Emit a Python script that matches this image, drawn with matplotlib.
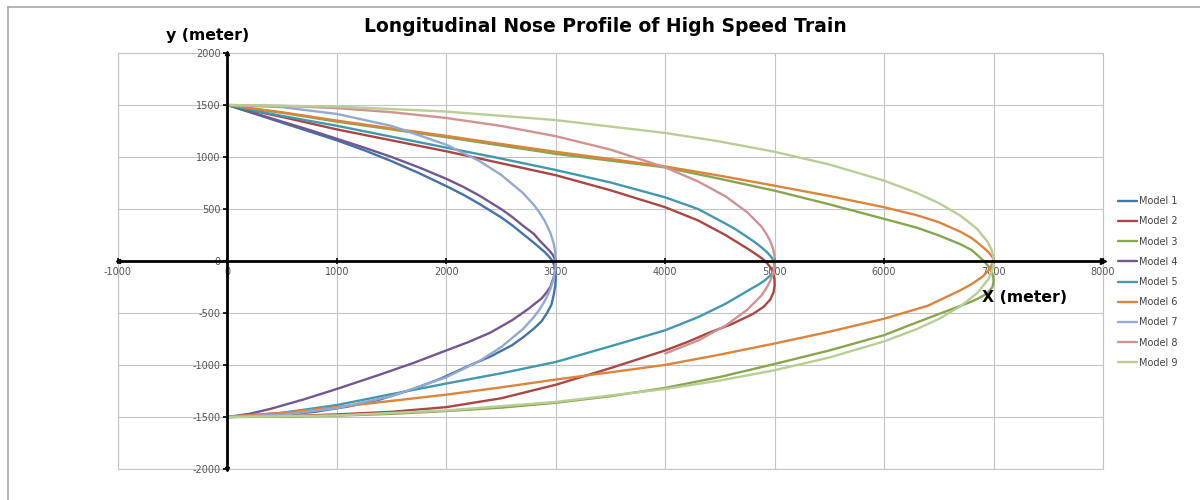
import matplotlib
matplotlib.use('Agg')
import matplotlib.pyplot as plt
from matplotlib.lines import Line2D
from matplotlib.patches import Rectangle

plt.rcParams['axes.unicode_minus'] = False
plt.rcParams['font.family'] = ['DejaVu Sans']

# ---------------- data ----------------
model_names = ["Model 1", "Model 2", "Model 3", "Model 4", "Model 5",
               "Model 6", "Model 7", "Model 8", "Model 9"]

m1_x = [0, 250, 500, 750, 1000, 1250, 1500, 1750, 2000, 2150, 2300, 2500, 2600, 2700, 2800, 2850, 2900,
        2940, 2970, 2985, 2995, 3000, 2995,
        2980, 2960, 2920, 2870, 2800, 2700, 2600, 2400, 2200, 1950, 1700, 1400, 1100, 800, 500, 250, 0]
m1_y = [1500, 1415, 1330, 1245, 1160, 1065, 960, 845, 720, 640, 550, 420, 345, 260, 175, 130, 85,
        40, 0, -40, -90, -160, -240,
        -330, -420, -500, -580, -650, -735, -810, -920, -1010, -1130, -1230, -1330, -1400, -1450, -1480, -1495, -1500]

m2_x = [0, 250, 500, 1000, 1500, 2000, 2500, 3000, 3500, 4000, 4300, 4550, 4650, 4750, 4830, 4890, 4930,
        4960, 4985, 4997, 5000,
        4990, 4960, 4900, 4800, 4700, 4600, 4400, 4200, 4000, 3500, 3000, 2500, 2000, 1500, 1000, 500, 0]
m2_y = [1500, 1440, 1385, 1265, 1160, 1055, 940, 825, 680, 517, 390, 250, 185, 120, 65, 20, -20,
        -60, -110, -170, -230,
        -300, -370, -440, -510, -560, -610, -690, -780, -860, -1030, -1190, -1320, -1405, -1450, -1475, -1493, -1500]

m3_x = [0, 250, 500, 1000, 1500, 2000, 2500, 3000, 3500, 4000, 4500, 5000, 5500, 6000, 6300, 6500, 6700,
        6800, 6870, 6920, 6960, 6985, 6998, 7000,
        6990, 6960, 6920, 6860, 6800, 6700, 6500, 6250, 6000, 5500, 5000, 4500, 4000, 3500, 3000, 2500,
        2000, 1500, 1000, 500, 0]
m3_y = [1500, 1460, 1425, 1340, 1265, 1190, 1110, 1030, 965, 900, 790, 676, 545, 405, 320, 246, 160,
        105, 40, -10, -60, -110, -160, -200,
        -250, -290, -325, -360, -390, -430, -510, -610, -713, -860, -990, -1115, -1220, -1300, -1363, -1410,
        -1443, -1470, -1487, -1497, -1500]

m4_x = [0, 250, 500, 750, 1000, 1250, 1500, 1750, 2000, 2150, 2300, 2500, 2600, 2700, 2800, 2850, 2900,
        2950, 2975, 2990, 2998, 3000,
        2995, 2980, 2950, 2910, 2870, 2750, 2600, 2400, 2200, 2000, 1700, 1400, 1000, 700, 400, 200, 0]
m4_y = [1500, 1420, 1340, 1260, 1175, 1090, 1000, 900, 790, 715, 630, 500, 425, 340, 260, 200, 145,
        90, 55, 20, -20, -60,
        -110, -160, -250, -310, -360, -460, -570, -690, -780, -860, -980, -1090, -1230, -1330, -1420, -1470, -1500]

m5_x = [0, 250, 500, 1000, 1500, 2000, 2500, 3000, 3500, 4000, 4300, 4550, 4650, 4750, 4820, 4880, 4930,
        4960, 4985, 4995, 5000,
        4995, 4980, 4950, 4910, 4860, 4780, 4700, 4550, 4300, 4000, 3500, 3000, 2500, 2000, 1500, 1000, 500, 0]
m5_y = [1500, 1445, 1395, 1300, 1195, 1090, 985, 875, 755, 612, 500, 360, 300, 230, 180, 130, 85,
        50, 15, -20, -50,
        -80, -115, -150, -185, -222, -270, -320, -412, -540, -666, -820, -971, -1080, -1178, -1280, -1385, -1460, -1500]

m6_x = [0, 250, 500, 1000, 1500, 2000, 2500, 3000, 3500, 4000, 4500, 5000, 5500, 6000, 6300, 6500, 6700,
        6800, 6850, 6900, 6950, 6980, 7000,
        6995, 6980, 6950, 6900, 6800, 6700, 6600, 6400, 6000, 5500, 5000, 4500, 4000, 3500, 3000, 2500,
        2000, 1500, 1000, 500, 0]
m6_y = [1500, 1465, 1430, 1350, 1275, 1203, 1125, 1050, 980, 909, 820, 724, 625, 517, 440, 373, 280,
        220, 180, 135, 90, 50, 20,
        -10, -45, -95, -150, -222, -280, -330, -430, -555, -680, -793, -900, -999, -1070, -1140, -1215,
        -1285, -1345, -1405, -1460, -1500]

m7_x = [0, 500, 1000, 1500, 2000, 2300, 2500, 2700, 2800, 2850, 2900, 2950, 2980, 2995, 3000,
        2995, 2980, 2950, 2900, 2850, 2800, 2700, 2500, 2300, 2000, 1500, 1000, 500, 0]
m7_y = [1500, 1479, 1414, 1299, 1118, 963, 829, 654, 539, 468, 384, 272, 173, 87, 0,
        -87, -173, -272, -384, -468, -539, -654, -829, -963, -1118, -1299, -1414, -1479, -1500]

m8_x = [0, 500, 1000, 1500, 2000, 2500, 3000, 3500, 4000, 4300, 4550, 4750, 4880, 4930, 4960, 4985, 4997, 5000,
        4997, 4985, 4960, 4930, 4880, 4750, 4550, 4300, 4000]
m8_y = [1500, 1492, 1470, 1431, 1375, 1299, 1200, 1071, 900, 765, 622, 468, 330, 250, 190, 120, 60, 0,
        -60, -120, -190, -250, -330, -468, -622, -765, -890]

m9_x = [0, 1000, 2000, 3000, 4000, 4500, 5000, 5500, 6000, 6300, 6500, 6700, 6850, 6950, 6985, 6998, 7000,
        6998, 6985, 6950, 6850, 6700, 6500, 6300, 6000, 5500, 5000, 4500, 4000, 3000, 2000, 1000, 0]
m9_y = [1500, 1485, 1437, 1355, 1231, 1149, 1050, 928, 773, 654, 557, 434, 309, 178, 98, 36, 0,
        -36, -98, -178, -309, -434, -557, -654, -773, -928, -1050, -1149, -1231, -1355, -1437, -1485, -1500]

x_ticks = [-1000, 0, 1000, 2000, 3000, 4000, 5000, 6000, 7000, 8000]
y_ticks = [-2000, -1500, -1000, -500, 0, 500, 1000, 1500, 2000]

title = "Longitudinal Nose Profile of High Speed Train"
x_label = "X (meter)"
y_label = "y (meter)"

# ---------------- styles ----------------
colors = ["#4572A7", "#AA4643", "#89A54E", "#71588F", "#4198AF",
          "#DB843D", "#93A9CF", "#D19392", "#B9CD96"]
series = [(m1_x, m1_y), (m2_x, m2_y), (m3_x, m3_y), (m4_x, m4_y), (m5_x, m5_y),
          (m6_x, m6_y), (m7_x, m7_y), (m8_x, m8_y), (m9_x, m9_y)]

W, H = 1200, 500
fig = plt.figure(figsize=(12, 5), dpi=100)
fig.patch.set_facecolor('white')

left, right, top, bottom = 118, 1103, 53, 469
ax = fig.add_axes([left / W, 1 - bottom / H, (right - left) / W, (bottom - top) / H])

for (xs, ys), c, name in zip(series, colors, model_names):
    ax.plot(xs, ys, color=c, lw=1.7, label=name, solid_capstyle='round', solid_joinstyle='round')

ax.set_xlim(-1000, 8000)
ax.set_ylim(-2000, 2000)
ax.set_xticks(x_ticks)
ax.set_yticks(y_ticks)
ax.set_xticklabels([str(v) for v in x_ticks])
ax.set_yticklabels([str(v) for v in y_ticks])

ax.grid(True, color='#c4c4c4', lw=0.8)
ax.set_axisbelow(True)

for s in ['top', 'right']:
    ax.spines[s].set_visible(False)
ax.spines['left'].set_position(('data', 0))
ax.spines['bottom'].set_position(('data', 0))
for s in ['left', 'bottom']:
    ax.spines[s].set_linewidth(2.0)
    ax.spines[s].set_color('black')
    ax.spines[s].set_zorder(2.5)

ax.add_patch(Rectangle((0, 0), 1, 1, transform=ax.transAxes, fill=False,
                       ec='#c4c4c4', lw=0.8, zorder=0.5, clip_on=False))

ax.tick_params(axis='x', direction='inout', length=5, width=1.2, colors='black',
               labelcolor='#555555', labelsize=7, pad=2)
ax.tick_params(axis='y', direction='out', length=3, width=1.2, colors='black',
               labelcolor='#555555', labelsize=7, pad=2)

# small arrow heads at the axis ends
ax.plot([8000], [0], marker='>', ms=4, color='black', clip_on=False, zorder=3)
ax.plot([-1000], [0], marker='<', ms=3, color='black', clip_on=False, zorder=3)
ax.plot([0], [2000], marker='^', ms=3, color='black', clip_on=False, zorder=3)
ax.plot([0], [-2000], marker='v', ms=3, color='black', clip_on=False, zorder=3)

fig.text(605 / W, 1 - 27 / H, title, ha='center', va='center', fontsize=13.5, fontweight='bold')
fig.text(208 / W, 1 - 35 / H, y_label, ha='center', va='center', fontsize=11.3, fontweight='bold')
fig.text(1025 / W, 1 - 298 / H, x_label, ha='center', va='center', fontsize=11.3, fontweight='bold')

fig.legend(loc='center left', bbox_to_anchor=(1114 / W, 1 - 282 / H), frameon=False,
           fontsize=7, handlelength=2.0, handletextpad=0.2, labelspacing=1.05,
           labelcolor='#444444', borderaxespad=0)

# outer chart border (left and top visible in the crop)
fig.add_artist(Line2D([8 / W, 8 / W], [0, 1 - 7 / H], color='#a8a8a8', lw=1.2))
fig.add_artist(Line2D([8 / W, 1], [1 - 7 / H, 1 - 7 / H], color='#a8a8a8', lw=1.2))

fig.savefig('out.png', dpi=100)
